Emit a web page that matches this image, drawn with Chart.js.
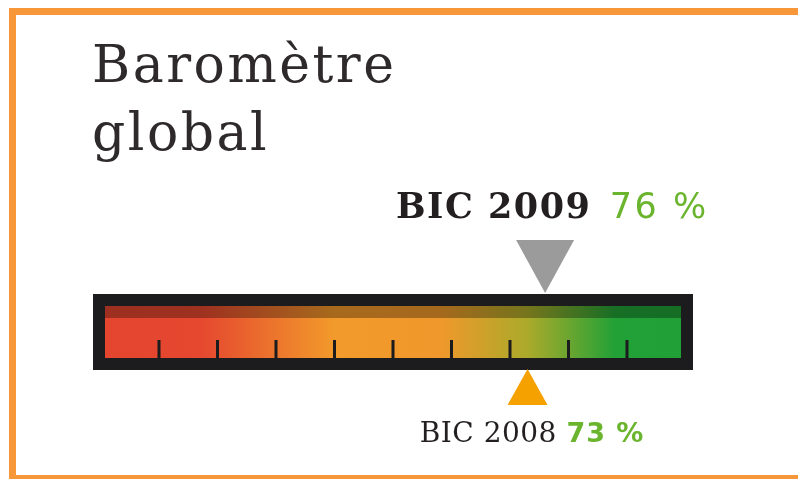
<!DOCTYPE html>
<html>
<head>
<meta charset="utf-8">
<script src="https://cdn.jsdelivr.net/npm/chart.js@4/dist/chart.umd.min.js"></script>
<style>
html, body { margin: 0; padding: 0; background: #fff; }
body { width: 798px; height: 479px; overflow: hidden; position: relative; }
#frame { position: absolute; left: 9px; top: 8px; width: 840px; height: 460px; border: 7px solid #F7973A; }
#wrap { position: absolute; left: 0; top: 0; width: 798px; height: 479px; }
</style>
</head>
<body>
<div id="frame"></div>
<div id="wrap"><canvas id="gauge" width="798" height="479"></canvas></div>
<script>
// gauge data
const gaugeRange = [0, 100];
const tickValues = [10, 20, 30, 40, 50, 60, 70, 80, 90];
const markerLabels = ["BIC 2009", "BIC 2008"];
const markerValues = [76, 73];
const titleLines = ["Baromètre", "global"];

const gradStops = [
    [0.00, "#E4452F"],
    [0.17, "#E5472F"],
    [0.40, "#F29A2B"],
    [0.58, "#F0982B"],
    [0.73, "#ABAA2A"],
    [0.88, "#22A137"],
    [1.00, "#20A036"]
];

function barGradient(context) {
    const chart = context.chart;
    if (!chart.chartArea) return "#F29A2B";
    const x = chart.scales.x;
    const g = chart.ctx.createLinearGradient(x.getPixelForValue(gaugeRange[0]), 0, x.getPixelForValue(gaugeRange[1]), 0);
    gradStops.forEach(s => g.addColorStop(s[0], s[1]));
    return g;
}

function drawLabel(ctx, cx, baseline, name, value, nameFont, nameSp, valueFont, valueSp, gap) {
    const valueText = value + " %";
    ctx.font = nameFont;
    ctx.letterSpacing = nameSp + "px";
    const w1 = ctx.measureText(name).width - nameSp;
    ctx.font = valueFont;
    ctx.letterSpacing = valueSp + "px";
    const w2 = ctx.measureText(valueText).width - valueSp;
    const start = cx - (w1 + gap + w2) / 2;
    ctx.textBaseline = "alphabetic";
    ctx.textAlign = "left";
    ctx.font = nameFont;
    ctx.letterSpacing = nameSp + "px";
    ctx.fillStyle = "#231F20";
    ctx.fillText(name, start, baseline);
    ctx.font = valueFont;
    ctx.letterSpacing = valueSp + "px";
    ctx.fillStyle = "#6AB42E";
    ctx.fillText(valueText, start + w1 + gap, baseline);
    ctx.letterSpacing = "0px";
}

const gaugePlugin = {
    id: "gauge",
    afterDatasetsDraw(chart) {
        const ctx = chart.ctx;
        const x = chart.scales.x;
        const bar = chart.getDatasetMeta(0).data[0];
        const left = bar.base, right = bar.x;
        const top = bar.y - bar.height / 2, bottom = bar.y + bar.height / 2;
        ctx.save();

        // darker band along the top
        ctx.fillStyle = "rgba(0,0,0,0.31)";
        ctx.fillRect(left, top, right - left, 18);

        // scale ticks
        ctx.strokeStyle = "#1C1B1D";
        ctx.lineWidth = 3;
        tickValues.forEach(v => {
            const px = x.getPixelForValue(v);
            ctx.beginPath();
            ctx.moveTo(px, bottom - 24);
            ctx.lineTo(px, bottom);
            ctx.stroke();
        });

        // black frame
        ctx.lineWidth = 12;
        ctx.strokeRect(left - 1.5, top, right - left + 3, bottom - top);

        // 2009 marker (down)
        let px = x.getPixelForValue(markerValues[0]);
        ctx.fillStyle = "#9B9B9B";
        ctx.beginPath();
        ctx.moveTo(px - 29, top - 60);
        ctx.lineTo(px + 29, top - 60);
        ctx.lineTo(px, top - 7);
        ctx.closePath();
        ctx.fill();
        drawLabel(ctx, px + 6, 218, markerLabels[0], markerValues[0],
            "bold 35px 'DejaVu Serif'", 1.5, "35px 'DejaVu Sans'", 2.5, 20);

        // 2008 marker (up)
        px = x.getPixelForValue(markerValues[1]);
        ctx.fillStyle = "#F5A100";
        ctx.beginPath();
        ctx.moveTo(px, bottom + 5);
        ctx.lineTo(px + 20, bottom + 41);
        ctx.lineTo(px - 20, bottom + 41);
        ctx.closePath();
        ctx.fill();
        drawLabel(ctx, px + 4, 442, markerLabels[1], markerValues[1],
            "28px 'DejaVu Serif'", 0.5, "bold 27px 'DejaVu Sans'", 1, 10);

        // title
        ctx.fillStyle = "#2E2A2B";
        ctx.font = "52px 'DejaVu Serif'";
        ctx.letterSpacing = "2.5px";
        ctx.textAlign = "left";
        ctx.fillText(titleLines[0], 92, 82);
        ctx.fillText(titleLines[1], 92, 150);
        ctx.restore();
    }
};

new Chart(document.getElementById("gauge").getContext("2d"), {
    type: "bar",
    data: {
        labels: ["global"],
        datasets: [{
            data: [gaugeRange],
            backgroundColor: barGradient,
            borderWidth: 0,
            barThickness: 64
        }]
    },
    options: {
        indexAxis: "y",
        responsive: false,
        animation: false,
        devicePixelRatio: 1,
        layout: { padding: { left: 100.5, right: 112.5, top: 294, bottom: 109 } },
        scales: {
            x: { display: false, min: gaugeRange[0], max: gaugeRange[1] },
            y: { display: false }
        },
        plugins: { legend: { display: false }, tooltip: { enabled: false } }
    },
    plugins: [gaugePlugin]
});
</script>
</body>
</html>
